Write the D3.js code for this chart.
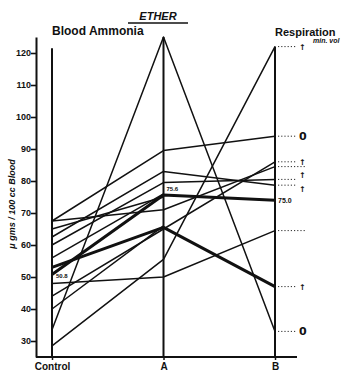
<!DOCTYPE html>
<html>
<head>
<meta charset="utf-8">
<script src="https://cdn.jsdelivr.net/npm/d3@7"></script>
<style>
  body { margin: 0; background: #fff; }
  text { font-family: 'Liberation Sans', Arial, sans-serif; fill: #111; }
</style>
</head>
<body>
<svg id="chart" width="344" height="372"></svg>
<script>
// values, one entry per subject
const categories = ['Control', 'A', 'B'];
const controlValues = [67.5, 67.5, 65, 62.5, 60, 56, 53, 50.8, 48, 44, 40, 33.5, 28.5];
const aValues       = [89.5, 71, 75, 83, 79.5, 76, 65.5, 75.6, 50, 65, 66, 125, 55.5];
const bValues       = [94, 84.5, null, 78.7, 80.5, null, 47, 74, 64.5, 86, null, 33, 122];
// respiration (min. vol) change at B: '↑' rise, '0' none, '' not marked
const respiration   = ['0', '', '', '↑', '↑', '', '↑', '', '', '↑', '', '0', '↑'];
const yTicks = [30, 40, 50, 60, 70, 80, 90, 100, 110, 120];
const pointLabels = [
  { subject: 7, step: 0, text: '50.8' },
  { subject: 7, step: 1, text: '75.6' },
  { subject: 7, step: 2, text: '75.0' },
];

const heavy = new Set([6, 7]);
const svg = d3.select('#chart');
const baseY = 357;

const x = d3.scalePoint().domain(categories).range([52, 275]);
const y = d3.scaleLinear().domain([25, 125]).range([baseY, 37]);

const subjects = controlValues.map((c, i) => [c, aValues[i], bValues[i]]);

// left axis
const yAxis = svg.append('g')
  .attr('transform', 'translate(36,0)')
  .call(d3.axisLeft(y).tickValues(yTicks).tickSize(5).tickSizeOuter(0).tickFormat(d3.format('d')));
yAxis.select('.domain').attr('stroke', '#111').attr('stroke-width', 2);
yAxis.selectAll('.tick line').attr('stroke', '#111').attr('stroke-width', 1.6);
yAxis.selectAll('.tick text')
  .attr('x', -5)
  .style('font-size', '9px')
  .style('font-weight', 'bold');

// base line + category labels
svg.append('line')
  .attr('x1', 36).attr('x2', 297)
  .attr('y1', baseY).attr('y2', baseY)
  .attr('stroke', '#111').attr('stroke-width', 2);
const xAxis = svg.append('g')
  .attr('transform', `translate(0,${baseY})`)
  .call(d3.axisBottom(x).tickSize(3));
xAxis.select('.domain').remove();
xAxis.selectAll('.tick line').attr('stroke', '#111').attr('stroke-width', 1.5);
xAxis.selectAll('.tick text')
  .attr('y', 6)
  .style('font-size', '10px')
  .style('font-weight', 'bold');

// vertical stage lines
const tops = [121.5, d3.max(aValues), d3.max(bValues.filter(v => v !== null))];
svg.selectAll('.stage').data(categories).enter().append('line')
  .attr('class', 'stage')
  .attr('x1', d => x(d)).attr('x2', d => x(d))
  .attr('y1', (d, i) => y(tops[i])).attr('y2', baseY)
  .attr('stroke', '#111').attr('stroke-width', 2);

// subject lines
const line = d3.line()
  .defined(d => d[1] !== null)
  .x(d => x(d[0]))
  .y(d => y(d[1]));
svg.selectAll('.subject').data(subjects).enter().append('path')
  .attr('class', 'subject')
  .attr('d', d => line(d.map((v, j) => [categories[j], v])))
  .attr('fill', 'none')
  .attr('stroke', '#111')
  .attr('stroke-width', (d, i) => heavy.has(i) ? 3 : 1.5)
  .attr('stroke-linejoin', 'round');

// dotted leaders to the respiration marks
const bx = x('B');
const marked = subjects
  .map((s, i) => ({ v: s[2], mark: respiration[i], i }))
  .filter(d => d.v !== null && d.mark);
subjects.forEach((s, i) => {
  if (s[2] === null || pointLabels.some(p => p.subject === i && p.step === 2)) return;
  const mark = respiration[i];
  svg.append('line')
    .attr('x1', bx + 3).attr('x2', mark ? bx + 22 : bx + 30)
    .attr('y1', y(s[2])).attr('y2', y(s[2]))
    .attr('stroke', '#111').attr('stroke-width', 0.9)
    .attr('stroke-dasharray', '1.2,2');
  if (mark) {
    // arrows that sit close together get stacked above / below their leader
    const near = marked.find(m => m.i !== i && Math.abs(y(m.v) - y(s[2])) < 9);
    let dy = mark === '0' ? 4 : 3;
    if (near) dy = y(s[2]) < y(near.v) ? -1 : 7;
    svg.append('text')
      .attr('x', bx + 24).attr('y', y(s[2]) + dy)
      .style('font-family', "'DejaVu Sans', sans-serif")
      .style('fill', '#111')
      .style('font-size', mark === '0' ? '11px' : '8px')
      .style('font-weight', 'bold')
      .text(mark);
  }
});

// value notes
const labelOffset = [[4, 4], [3, -4], [3, 3]];
pointLabels.forEach(p => {
  const v = subjects[p.subject][p.step];
  svg.append('text')
    .attr('x', x(categories[p.step]) + labelOffset[p.step][0])
    .attr('y', y(v) + labelOffset[p.step][1])
    .style('font-size', p.step === 2 ? '7px' : '6px')
    .style('font-weight', 'bold')
    .text(p.text);
});

// titles
svg.append('text')
  .attr('x', 158).attr('y', 20)
  .attr('text-anchor', 'middle')
  .style('font-size', '11px').style('font-weight', 'bold').style('font-style', 'italic')
  .text('ETHER');
svg.append('line')
  .attr('x1', 128).attr('x2', 188).attr('y1', 23).attr('y2', 23)
  .attr('stroke', '#111').attr('stroke-width', 1.5);
svg.append('text')
  .attr('x', 52).attr('y', 35)
  .style('font-size', '12px').style('font-weight', 'bold')
  .text('Blood Ammonia');
svg.append('text')
  .attr('x', 275).attr('y', 36)
  .style('font-size', '11px').style('font-weight', 'bold')
  .text('Respiration');
svg.append('text')
  .attr('x', 313).attr('y', 43)
  .style('font-size', '7px').style('font-weight', 'bold').style('font-style', 'italic')
  .text('min. vol');
svg.append('text')
  .attr('transform', 'translate(15,204) rotate(-90)')
  .attr('text-anchor', 'middle')
  .style('font-size', '9px').style('font-style', 'italic').style('font-weight', 'bold')
  .text('μ gms / 100 cc Blood');
</script>
</body>
</html>
